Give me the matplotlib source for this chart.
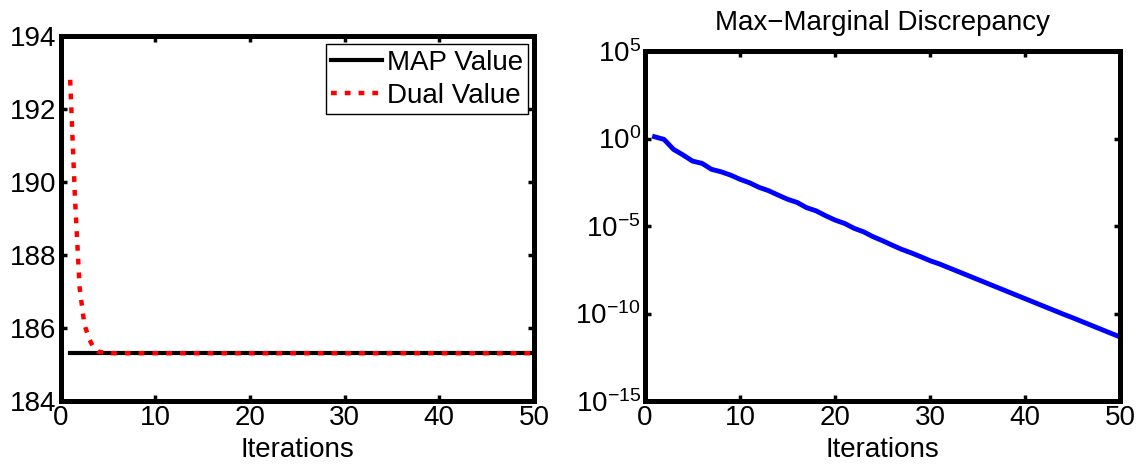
import numpy as np
import matplotlib
matplotlib.use("Agg")
import matplotlib.pyplot as plt
from matplotlib.ticker import NullLocator

plt.rcParams['font.family'] = ['Liberation Sans', 'DejaVu Sans']
plt.rcParams['mathtext.default'] = 'regular'

# Left panel: primal (MAP) and dual objective per iteration
map_iters = [1, 50]
map_values = [185.31, 185.31]
dual_iters = [1, 1.5, 2, 2.5, 3, 3.5, 4] + list(range(5, 51))
dual_values = [192.8, 189.6, 187.1, 186.1, 185.7, 185.45, 185.35] + [185.31] * 46

# Right panel: max-marginal discrepancy (log10) per iteration
mm_iters = list(range(1, 51))
mm_log10 = [0.10, -0.05, -0.62, -0.94, -1.29, -1.42, -1.76, -1.90, -2.09, -2.33,
            -2.53, -2.79, -2.98, -3.23, -3.47, -3.65, -3.95, -4.13, -4.41, -4.66,
            -4.85, -5.13, -5.33, -5.61, -5.84, -6.09, -6.33, -6.53, -6.75, -6.98,
            -7.17, -7.39, -7.61, -7.83, -8.05, -8.27, -8.49, -8.71, -8.93, -9.15,
            -9.37, -9.59, -9.81, -10.03, -10.24, -10.46, -10.68, -10.90, -11.12, -11.34]
mm_values = [10.0 ** v for v in mm_log10]

x_ticks = [0, 10, 20, 30, 40, 50]

fig = plt.figure(figsize=(11.41, 4.65), dpi=100)
ax1 = fig.add_axes([0.0532, 0.1376, 0.4148, 0.785])
ax2 = fig.add_axes([0.5653, 0.1376, 0.4163, 0.7527])


def style_axes(ax):
    for s in ax.spines.values():
        s.set_linewidth(3.6)
    ax.tick_params(direction='in', length=4, width=2.5, labelsize=20,
                   top=True, right=True, pad=3)
    ax.set_xlim(0, 50)
    ax.set_xticks(x_ticks)
    ax.set_xlabel('Iterations', fontsize=20, labelpad=4)


ax1.plot(map_iters, map_values, color='black', lw=3, label='MAP Value')
ax1.plot(dual_iters, dual_values, color='red', lw=3.2,
         linestyle=(0, (1.3, 1.8)), label='Dual Value')
style_axes(ax1)
ax1.set_ylim(184, 194)
ax1.set_yticks(np.arange(184, 195, 2))
leg = ax1.legend(loc='upper right', fontsize=20, fancybox=False, framealpha=1,
                 edgecolor='black', borderpad=0.2, handlelength=1.85,
                 handletextpad=0.15, labelspacing=0.25, borderaxespad=0.0,
                 bbox_to_anchor=(0.988, 0.978))
leg.get_frame().set_linewidth(1.0)

ax2.semilogy(mm_iters, mm_values, color='blue', lw=3.5)
style_axes(ax2)
ax2.set_ylim(1e-15, 1e5)
ax2.set_yticks([1e-15, 1e-10, 1e-5, 1e0, 1e5])
ax2.yaxis.set_minor_locator(NullLocator())
ax2.set_title('Max\u2212Marginal Discrepancy', fontsize=20, pad=15)

fig.savefig('out.png', dpi=100)
